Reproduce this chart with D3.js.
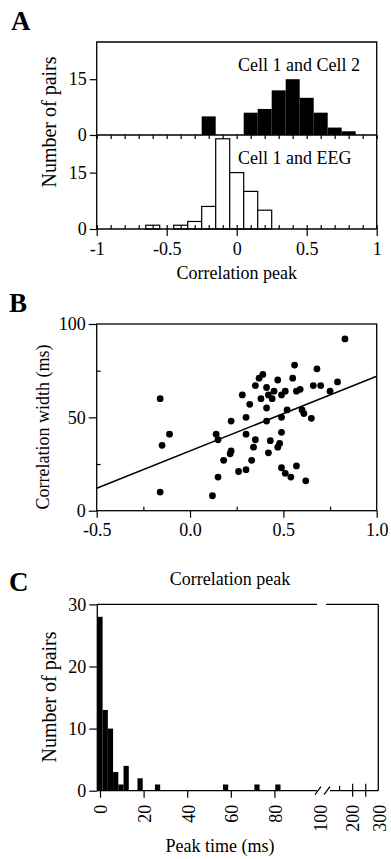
<!DOCTYPE html>
<html>
<head>
<meta charset="utf-8">
<script src="https://cdn.jsdelivr.net/npm/d3@7"></script>
<style>
body{margin:0;background:#fff;}
svg text{font-family:"Liberation Serif","Times New Roman",serif;fill:#000;}
.axis path{stroke:none;}
.axis line{stroke:#000;stroke-width:1.2;}
.axis text{font-family:"Liberation Serif","Times New Roman",serif;font-size:18px;}
.frame{stroke:#000;stroke-width:1.3;fill:none;}
</style>
</head>
<body>
<div id="chart"></div>
<script>
// ---- panel A : correlation peak histograms (bin centres / counts)
var peakBinWidth = 0.1;
var cellBins   = [-0.2, 0.1, 0.2, 0.3, 0.4, 0.5, 0.6, 0.7, 0.8];
var cellCounts = [5, 6, 7, 12, 15, 10, 6, 2, 1];
var eegBins    = [-0.6, -0.4, -0.3, -0.2, -0.1, 0.0, 0.1, 0.2];
var eegCounts  = [1, 1, 2, 6, 24, 15, 10, 5];
var peakTicks  = [-1, -0.5, 0, 0.5, 1];
var peakTickLabels = ["-1", "-0.5", "0", "0.5", "1"];
var countTicksA = [0, 15];

// ---- panel B : correlation width vs correlation peak
var corrPeak  = [0.83, -0.16, 0.56, 0.68, 0.39, 0.37, 0.55, 0.47, 0.79, 0.35, 0.41, 0.66, 0.70, 0.59, 0.57,
                 0.28, 0.45, 0.51, 0.49, 0.42, 0.44, 0.38, 0.75, 0.32, 0.41, 0.52, 0.60, 0.61,
                 0.30, 0.22, 0.41, 0.49, 0.65, -0.11, -0.15, 0.14, 0.15, 0.30, 0.35, 0.49, 0.43, 0.48,
                 0.47, 0.34, 0.22, 0.215, 0.42, 0.18, 0.33, 0.26, 0.30, 0.49, 0.51, 0.54, 0.57, 0.62,
                 0.15, -0.16, 0.12];
var corrWidth = [92, 60, 78, 76, 73, 71, 71, 70, 69, 67, 66, 67, 67, 65, 64,
                 62, 64, 64, 62, 62, 60, 60, 64, 57, 55, 54, 54, 52,
                 50, 48, 48, 50, 49.5, 41, 35, 41, 38, 41, 38, 42, 37.5, 36,
                 34, 34, 32, 30.5, 31, 27, 27, 21, 22, 23, 20, 18, 24, 16,
                 18, 10, 8];
var fitIntercept = 32, fitSlope = 40;
var widthTicks = [0, 50, 100];
var widthMinor = [25, 75];
var peakTicksB = [-0.5, 0, 0.5, 1.0];
var peakTickLabelsB = ["-0.5", "0.0", "0.5", "1.0"];
var peakMinorB = [-0.25, 0.25, 0.75];

// ---- panel C : peak time histogram
var timeBinWidth = 2.4;
var timeBins   = [0, 2.4, 4.8, 7.2, 9.6, 12.0, 18.4, 26.4, 57.6, 72.0, 81.6];
var timeCounts = [28, 13, 10, 3, 1, 4, 2, 1, 1, 1, 1];
var timeTicks  = [0, 20, 40, 60, 80];
var timeTicksHi = [100, 200, 300];
var countTicksC = [0, 10, 20, 30];

var W = 391, H = 859;
var svg = d3.select("#chart").append("svg").attr("width", W).attr("height", H);

function letter(t, x, y){
  svg.append("text").attr("x", x).attr("y", y).text(t)
    .style("font-size", "27px").style("font-weight", "bold");
}
function label(t, x, y, rot){
  var s = svg.append("text").style("font-size", "18px").style("text-anchor", "middle").text(t);
  if(rot) s.attr("transform", "translate(" + x + "," + y + ") rotate(-90)");
  else s.attr("x", x).attr("y", y);
  return s;
}
function line(x1, y1, x2, y2, w){
  svg.append("line").attr("x1", x1).attr("y1", y1).attr("x2", x2).attr("y2", y2)
    .attr("stroke", "#000").attr("stroke-width", w || 1.3);
}

// ================= A =================
var aL = 96.7, aR = 376.7, aTop = 42, aMid = 135, aBot = 229;
var xA = d3.scaleLinear().domain([-1, 1]).range([aL, aR]);
var yA1 = d3.scaleLinear().domain([0, 25]).range([aMid, aTop]);
var yA2 = d3.scaleLinear().domain([0, 25]).range([aBot, aMid]);

letter("A", 11, 30);

svg.append("g").selectAll("rect").data(cellBins).join("rect")
  .attr("x", function(d){ return xA(d - peakBinWidth/2); })
  .attr("width", function(d){ return xA(d + peakBinWidth/2) - xA(d - peakBinWidth/2); })
  .attr("y", function(d, i){ return yA1(cellCounts[i]); })
  .attr("height", function(d, i){ return yA1(0) - yA1(cellCounts[i]); })
  .attr("fill", "#000");

svg.append("g").selectAll("rect").data(eegBins).join("rect")
  .attr("x", function(d){ return xA(d - peakBinWidth/2); })
  .attr("width", function(d){ return xA(d + peakBinWidth/2) - xA(d - peakBinWidth/2); })
  .attr("y", function(d, i){ return yA2(eegCounts[i]); })
  .attr("height", function(d, i){ return yA2(0) - yA2(eegCounts[i]); })
  .attr("fill", "#fff").attr("stroke", "#000").attr("stroke-width", 1.2);

// frame
svg.append("path").attr("class", "frame")
  .attr("d", "M" + aL + "," + aBot + "V" + aTop + "H" + aR + "V" + aBot);
line(aL, aMid, aR, aMid);
line(aL, aBot, aR, aBot);

var minorA = d3.range(-1, 1.001, 0.1);
svg.append("g").attr("class", "axis").attr("transform", "translate(0," + aMid + ")")
  .call(d3.axisBottom(xA).tickValues(minorA).tickSize(4).tickFormat(""));
svg.append("g").attr("class", "axis").attr("transform", "translate(0," + aBot + ")")
  .call(d3.axisTop(xA).tickValues(minorA).tickSize(4).tickFormat(""));
svg.append("g").attr("class", "axis").attr("transform", "translate(0," + aBot + ")")
  .call(d3.axisBottom(xA).tickValues(peakTicks).tickSize(7).tickPadding(6)
    .tickFormat(function(d, i){ return peakTickLabels[i]; }));
svg.append("g").attr("class", "axis").attr("transform", "translate(" + aL + ",0)")
  .call(d3.axisLeft(yA1).tickValues(countTicksA).tickSize(7).tickPadding(3));
svg.append("g").attr("class", "axis").attr("transform", "translate(" + aL + ",0)")
  .call(d3.axisLeft(yA2).tickValues(countTicksA).tickSize(7).tickPadding(3));

svg.append("text").attr("x", 238).attr("y", 71).style("font-size", "18px").text("Cell 1 and Cell 2");
svg.append("text").attr("x", 238).attr("y", 164).style("font-size", "18px").text("Cell 1 and EEG");
label("Number of pairs", 56, 122, true).style("font-size", "20px");
label("Correlation peak", (aL + aR) / 2, 279);

// ================= B =================
var bL = 96.7, bR = 376.7, bTop = 324, bBot = 510.7;
var xB = d3.scaleLinear().domain([-0.5, 1.0]).range([bL, bR]);
var yB = d3.scaleLinear().domain([0, 100]).range([bBot, bTop]);

letter("B", 9, 312);
svg.append("rect").attr("class", "frame").attr("x", bL).attr("y", bTop)
  .attr("width", bR - bL).attr("height", bBot - bTop);

svg.append("g").attr("class", "axis").attr("transform", "translate(" + bL + ",0)")
  .call(d3.axisLeft(yB).tickValues(widthTicks).tickSize(8).tickPadding(3));
svg.append("g").attr("class", "axis").attr("transform", "translate(" + bL + ",0)")
  .call(d3.axisRight(yB).tickValues(widthMinor).tickSize(4).tickFormat(""));
svg.append("g").attr("class", "axis").attr("transform", "translate(0," + bBot + ")")
  .call(d3.axisBottom(xB).tickValues(peakTicksB).tickSize(7).tickPadding(6)
    .tickFormat(function(d, i){ return peakTickLabelsB[i]; }));
svg.append("g").attr("class", "axis").attr("transform", "translate(0," + bBot + ")")
  .call(d3.axisTop(xB).tickValues(peakMinorB).tickSize(4).tickFormat(""));

var fitX = xB.domain();
svg.append("line")
  .attr("x1", xB(fitX[0])).attr("y1", yB(fitIntercept + fitSlope * fitX[0]))
  .attr("x2", xB(fitX[1])).attr("y2", yB(fitIntercept + fitSlope * fitX[1]))
  .attr("stroke", "#000").attr("stroke-width", 1.5);

svg.append("g").selectAll("circle").data(corrPeak).join("circle")
  .attr("cx", function(d){ return xB(d); })
  .attr("cy", function(d, i){ return yB(corrWidth[i]); })
  .attr("r", 3.4).attr("fill", "#000");

label("Correlation width (ms)", 49, 427, true);
label("Correlation peak", 230, 585);

// ================= C =================
var cL = 97.3, cR = 378.3, cTop = 604.4, cBot = 790.7, brk0 = 318, brk1 = 326;
var xC = d3.scaleLinear().domain([0, 100]).range([100, brk0]);
var xC2 = d3.scaleLinear().domain([100, 300]).range([brk1, cR]);
var yC = d3.scaleLinear().domain([0, 30]).range([cBot, cTop]);

letter("C", 9, 591);

svg.append("g").selectAll("rect").data(timeBins).join("rect")
  .attr("x", function(d){ return xC(d - timeBinWidth/2); })
  .attr("width", function(d){ return xC(d + timeBinWidth/2) - xC(d - timeBinWidth/2); })
  .attr("y", function(d, i){ return yC(timeCounts[i]); })
  .attr("height", function(d, i){ return yC(0) - yC(timeCounts[i]); })
  .attr("fill", "#000");

// frame with axis break
line(cL, cTop, cL, cBot);
line(cR, cTop, cR, cBot);
line(cL, cTop, brk0 - 1, cTop);
line(brk1, cTop, cR, cTop);
line(cL, cBot, brk0 - 1, cBot);
line(brk1 + 4, cBot, cR, cBot);
line(brk0 - 3, cBot + 4, brk0 + 3, cBot - 4);
line(brk1 - 2, cBot + 4, brk1 + 4, cBot - 4);

svg.append("g").attr("class", "axis").attr("transform", "translate(" + cL + ",0)")
  .call(d3.axisLeft(yC).tickValues(countTicksC).tickSize(8).tickPadding(3));
svg.append("g").attr("class", "axis").attr("transform", "translate(0," + cBot + ")")
  .call(d3.axisBottom(xC).tickValues(timeTicks).tickSize(7).tickFormat(""));
svg.append("g").attr("class", "axis").attr("transform", "translate(0," + cBot + ")")
  .call(d3.axisTop(xC2).tickValues([150]).tickSize(5).tickFormat(""));
svg.append("g").attr("class", "axis").attr("transform", "translate(0," + (cBot + 6) + ")")
  .call(d3.axisTop(xC2).tickValues([200, 250]).tickSize(13).tickFormat(""));

svg.append("g").selectAll("text").data(timeTicks.concat(timeTicksHi)).join("text")
  .attr("transform", function(d){
    var x = d < 100 ? xC(d) : (d === 100 ? brk0 + 2 : xC2(d));
    return "translate(" + (x + 1) + "," + (cBot + 14) + ") rotate(-90)";
  })
  .attr("dy", "0.35em")
  .style("text-anchor", "end").style("font-size", "18px")
  .text(function(d){ return d; });

label("Number of pairs", 56, 697, true).style("font-size", "20px");
label("Peak time (ms)", 220, 852);
</script>
</body>
</html>
